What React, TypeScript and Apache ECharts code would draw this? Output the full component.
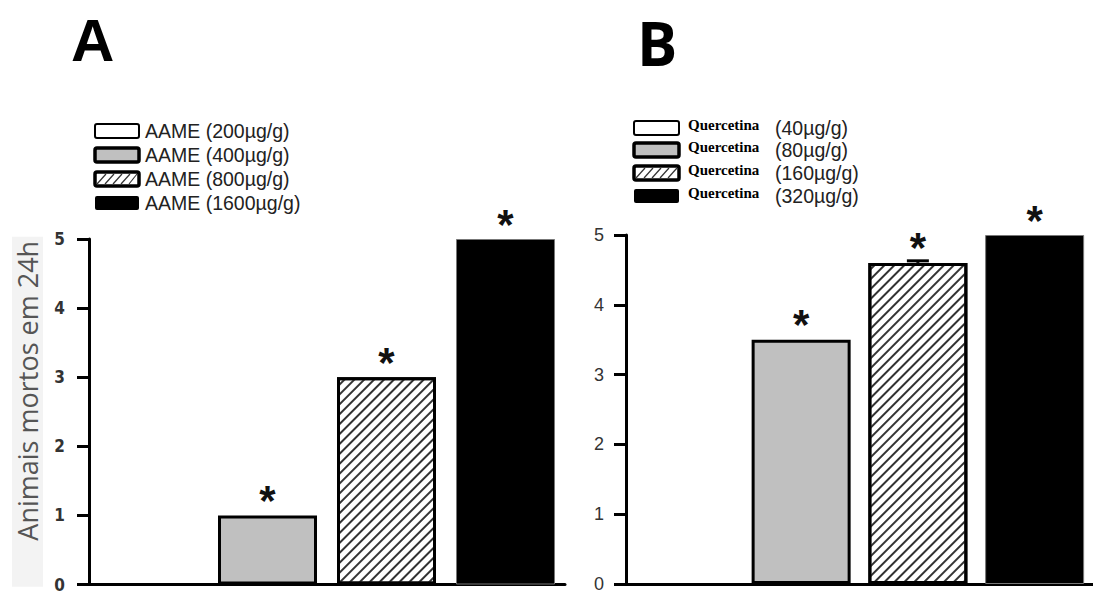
import React, { useEffect, useRef } from "react";
import * as echarts from "echarts";

// ---------- data ----------
const panelTitles = ["A", "B"];
const yAxisTitle = "Animais mortos em 24h";
const yTicks = [0, 1, 2, 3, 4, 5];

const labelsA = ["AAME (200µg/g)", "AAME (400µg/g)", "AAME (800µg/g)", "AAME (1600µg/g)"];
const valuesA = [0, 1, 3, 5];
const sigA = [false, true, true, true];

const compoundB = "Quercetina";
const dosesB = ["(40µg/g)", "(80µg/g)", "(160µg/g)", "(320µg/g)"];
const valuesB = [0, 3.5, 4.6, 5];
const errorsB = [0, 0, 0.03, 0];
const sigB = [false, true, true, true];

// ---------- styles ----------
const fills = ["#ffffff", "#c0c0c0", "#ffffff", "#000000"];
const hatched = [false, false, true, false];
const borderW = [3, 3, 3, 1];
const borderC = ["#000", "#000", "#000", "#777"];

const decal = {
  symbol: "rect",
  symbolSize: 1,
  dashArrayX: [1, 0],
  dashArrayY: [1.4, 4.6],
  rotation: -Math.PI / 4,
  color: "#333",
};

function barData(values: number[], sig: boolean[]) {
  return values.map((v, i) => ({
    value: v,
    itemStyle: {
      color: fills[i],
      borderColor: borderC[i],
      borderWidth: v === 0 ? 0 : borderW[i],
      decal: hatched[i] ? decal : undefined,
    },
    label: { show: sig[i] },
  }));
}

function legendGraphics(
  x: number,
  yCenters: number[],
  w: number,
  h: number,
  textFn: (i: number) => any[]
) {
  const els: any[] = [];
  yCenters.forEach((cy, i) => {
    const y = cy - h / 2;
    els.push({
      type: "rect",
      shape: { x, y, width: w, height: h, r: 2 },
      style: {
        fill: fills[i],
        stroke: "#000",
        lineWidth: i === 0 ? 2 : i === 3 ? 0 : 3.5,
      },
    });
    if (hatched[i]) {
      for (let k = 0; k < 5; k++) {
        const x1 = x + 2 + k * 8;
        els.push({
          type: "line",
          shape: { x1, y1: y + h - 2, x2: Math.min(x1 + 9, x + w - 2), y2: y + 2 },
          style: { stroke: "#333", lineWidth: 1.2 },
        });
      }
    }
    textFn(i).forEach((t) => els.push(t));
  });
  return els;
}

export default function App() {
  const ref = useRef<HTMLDivElement>(null);
  useEffect(() => {
    if (!ref.current) return;
    const chart = echarts.init(ref.current, undefined, { renderer: "svg" });

    const starLabel = {
      position: "top",
      formatter: "*",
      fontSize: 42,
      fontWeight: "bold",
      fontFamily: "Arial, Liberation Sans",
      color: "#111",
      distance: -6,
    };

    const yAxisBase = {
      type: "value",
      min: yTicks[0],
      max: yTicks[yTicks.length - 1],
      interval: 1,
      axisLine: { show: true, lineStyle: { color: "#000", width: 3 } },
      axisTick: { show: true, length: 12, lineStyle: { color: "#000", width: 3 } },
      splitLine: { show: false },
    };

    const ycA = [131, 155, 179, 203];
    const legendA = legendGraphics(95, ycA, 44, 14, (i) => [
      {
        type: "text",
        style: {
          x: 145,
          y: ycA[i],
          text: labelsA[i],
          fill: "#222",
          font: "19.5px Arial, 'Liberation Sans'",
          textVerticalAlign: "middle",
        },
      },
    ]);
    const ycB = [128, 150, 173, 196];
    const legendB = legendGraphics(634, ycB, 45, 14, (i) => [
      {
        type: "text",
        style: {
          x: 688,
          y: ycB[i] - 3,
          text: compoundB,
          fill: "#000",
          font: "bold 15px 'Liberation Serif', 'DejaVu Serif', serif",
          textVerticalAlign: "middle",
        },
      },
      {
        type: "text",
        style: {
          x: 775,
          y: ycB[i],
          text: dosesB[i],
          fill: "#222",
          font: "19.5px Arial, 'Liberation Sans'",
          textVerticalAlign: "middle",
        },
      },
    ]);

    const option: any = {
      animation: false,
      backgroundColor: "#ffffff",
      grid: [
        { left: 89, top: 239, width: 476, height: 350 },
        { left: 626, top: 235, width: 476, height: 350 },
      ],
      xAxis: [
        {
          type: "category",
          gridIndex: 0,
          data: labelsA,
          axisLine: { lineStyle: { color: "#000", width: 3 } },
          axisTick: { show: false },
          axisLabel: { show: false },
        },
        {
          type: "category",
          gridIndex: 1,
          data: dosesB,
          axisLine: { lineStyle: { color: "#000", width: 3 } },
          axisTick: { show: false },
          axisLabel: { show: false },
        },
      ],
      yAxis: [
        {
          ...yAxisBase,
          gridIndex: 0,
          name: yAxisTitle,
          nameLocation: "middle",
          nameGap: 46,
          nameRotate: 90,
          nameTextStyle: {
            fontSize: 27,
            fontFamily: "'Open Sans', Arial",
            color: "#555",
            backgroundColor: "#f3f3f3",
            padding: [2, 4, 2, 46],
          },
          axisLabel: {
            margin: 24,
            fontSize: 17,
            fontWeight: "bold",
            fontFamily: "'Liberation Sans Narrow', 'Arial Narrow', 'DejaVu Sans Condensed', Arial",
            color: "#333",
          },
        },
        {
          ...yAxisBase,
          gridIndex: 1,
          axisLabel: {
            margin: 22,
            fontSize: 18,
            fontFamily: "Arial, 'Liberation Sans'",
            color: "#333",
          },
        },
      ],
      series: [
        {
          type: "bar",
          xAxisIndex: 0,
          yAxisIndex: 0,
          barWidth: 99,
          data: barData(valuesA, sigA),
          label: starLabel,
        },
        {
          type: "bar",
          xAxisIndex: 1,
          yAxisIndex: 1,
          barWidth: 99,
          data: barData(valuesB, sigB),
          label: starLabel,
        },
        {
          type: "custom",
          xAxisIndex: 1,
          yAxisIndex: 1,
          z: 10,
          data: valuesB
            .map((v, i) => [i, v, errorsB[i]])
            .filter((d) => d[2] > 0),
          renderItem: (params: any, api: any) => {
            const x = api.value(0);
            const m = api.value(1);
            const e = api.value(2);
            const top = api.coord([x, m + e]);
            const base = api.coord([x, m]);
            return {
              type: "group",
              children: [
                {
                  type: "line",
                  shape: { x1: top[0], y1: top[1], x2: base[0], y2: base[1] },
                  style: { stroke: "#000", lineWidth: 3 },
                },
                {
                  type: "line",
                  shape: { x1: top[0] - 11, y1: top[1], x2: top[0] + 11, y2: top[1] },
                  style: { stroke: "#000", lineWidth: 3 },
                },
              ],
            };
          },
        },
      ],
      graphic: [
        {
          type: "text",
          style: {
            x: 71,
            y: 40,
            text: panelTitles[0],
            fill: "#000",
            font: "bold 60px Arial, 'Liberation Sans'",
            textVerticalAlign: "middle",
          },
        },
        {
          type: "text",
          style: {
            x: 637,
            y: 43,
            text: panelTitles[1],
            fill: "#000",
            font: "bold 60px 'Open Sans', Arial",
            textVerticalAlign: "middle",
          },
        },
        ...legendA,
        ...legendB,
      ],
    };
    chart.setOption(option);
    return () => chart.dispose();
  }, []);

  return (
    <div
      ref={ref}
      style={{ position: "absolute", left: 0, top: 0, width: 1093, height: 593 }}
    />
  );
}
